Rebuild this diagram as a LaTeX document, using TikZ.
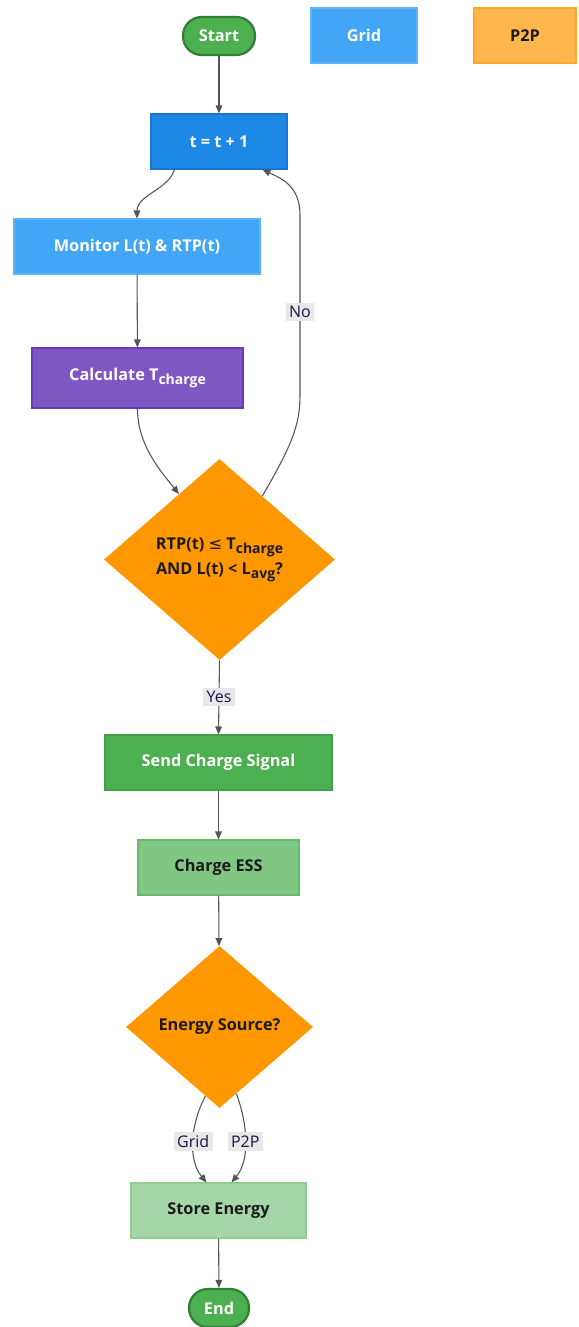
\documentclass[tikz,border=0pt]{standalone}
\usepackage{fontspec}
\setmainfont{Open Sans}
\newfontfamily\symfont{DejaVu Sans}
\usetikzlibrary{shapes.geometric,arrows.meta,calc}
\definecolor{cStart}{HTML}{4CAF50}
\definecolor{cStartB}{HTML}{2E7D32}
\definecolor{cGrid}{HTML}{42A5F5}
\definecolor{cP2P}{HTML}{FFB74D}
\definecolor{cP2PB}{HTML}{FFA726}
\definecolor{cTick}{HTML}{1E88E5}
\definecolor{cTickB}{HTML}{1976D2}
\definecolor{cCalc}{HTML}{7E57C2}
\definecolor{cCalcB}{HTML}{673AB7}
\definecolor{cDec}{HTML}{FF9800}
\definecolor{cEss}{HTML}{81C784}
\definecolor{cEssB}{HTML}{66BB6A}
\definecolor{cStore}{HTML}{A5D6A7}
\definecolor{cStoreB}{HTML}{81C784}
\definecolor{cEdge}{HTML}{555555}
\definecolor{cLbl}{HTML}{E8E8E8}
\definecolor{cDark}{HTML}{1A1A1A}
\newcommand{\subtxt}[1]{\raisebox{-0.45ex}{\fontsize{10.5}{10.5}\selectfont #1}}
\tikzset{
  base/.style={font=\fontsize{12.2}{14}\selectfont\bfseries, inner sep=0pt, align=center},
  boxnode/.style={base, rectangle, minimum height=41.25pt, line width=0.8pt},
  termnode/.style={base, rectangle, rounded corners=14pt, minimum width=54pt, minimum height=28.5pt,
    fill=cStart, draw=cStartB, line width=1.6pt, text=white},
  decnode/.style={base, diamond, fill=cDec, text=cDark},
  flow/.style={draw=cEdge, line width=0.8pt, -{Triangle[length=6pt,width=5pt]}},
  lbl/.style={font=\fontsize{12}{14}\selectfont, fill=cLbl, text=cDark!80!blue, inner sep=2.5pt}
}
\begin{document}
\begin{tikzpicture}[x=0.75pt,y=-0.75pt]
\useasboundingbox[fill=white] (0,0) rectangle (578,1327);
% legend
\node[boxnode, minimum width=79.5pt, fill=cGrid, draw=cGrid!85!white, text=white] (lgrid) at (364,35.5) {Grid};
\node[boxnode, minimum width=76.5pt, fill=cP2P, draw=cP2PB, text=cDark] (lp2p) at (525,35.5) {P2P};
% flow nodes
\node[termnode] (start) at (219,36) {Start};
\node[boxnode, minimum width=102pt, fill=cTick, draw=cTickB, text=white] (tick) at (219,141.5) {t = t + 1};
\node[boxnode, minimum width=184.5pt, fill=cGrid, draw=cGrid!85!white, text=white] (mon) at (137,246.5) {Monitor L(t) \& RTP(t)};
\node[boxnode, minimum width=158.25pt, minimum height=45pt, fill=cCalc, draw=cCalcB, text=white] (calc) at (137.5,378) {Calculate T\subtxt{charge}};
\node[decnode, minimum width=173.25pt, minimum height=150.75pt] (d1) at (219.5,559.5)
  {RTP(t) {\symfont\mdseries ≤} T\subtxt{charge}\\[3.5pt] AND L(t) < L\subtxt{avg}?};
\node[boxnode, minimum width=170.25pt, fill=cStart, draw=cStart!90!black, text=white] (send) at (218.5,762.5) {Send Charge Signal};
\node[boxnode, minimum width=120.75pt, fill=cEss, draw=cEssB, text=cDark] (ess) at (218.5,867.5) {Charge ESS};
\node[decnode, minimum width=140.25pt, minimum height=121.5pt] (d2) at (219.5,1027) {Energy Source?};
\node[boxnode, minimum width=131.25pt, fill=cStore, draw=cStoreB!60!cStore, text=cDark] (store) at (218.5,1210.5) {Store Energy};
\node[termnode, minimum width=45pt] (end) at (219,1308) {End};
% edges
\draw[flow] (start) -- (tick);
\draw[flow] ($(tick.south west)+(24,0)$) .. controls +(-6,20) and (137,195) .. (mon.north);
\draw[flow] (mon) -- (calc);
\draw[flow] (calc.south) .. controls +(0,35) and (158,468) .. ($(d1.west)!0.65!(d1.north)$);
\draw[flow] ($(d1.north)!0.37!(d1.east)$) .. controls (292,445) and (300,425) .. (300,395)
  -- node[lbl, pos=0.46] (lno) {No} (300,215)
  .. controls (300,185) and (280,178) .. ($(tick.south east)+(-25,0)$);
\draw[flow] (d1.south) -- node[lbl, pos=0.49] (lyes) {Yes} (send.north);
\draw[flow] (send) -- (ess);
\draw[flow] (ess) -- (d2);
\draw[flow] ($(d2.west)!0.85!(d2.south)$) .. controls (190,1125) and (188,1160) .. node[lbl, pos=0.5] (lg) {Grid} ($(store.north)+(-12,0)$);
\draw[flow] ($(d2.east)!0.82!(d2.south)$) .. controls (248,1125) and (250,1160) .. node[lbl, pos=0.5] (lp) {P2P} ($(store.north)+(13,0)$);
\draw[flow] (store) -- (end);
\end{tikzpicture}
\end{document}
